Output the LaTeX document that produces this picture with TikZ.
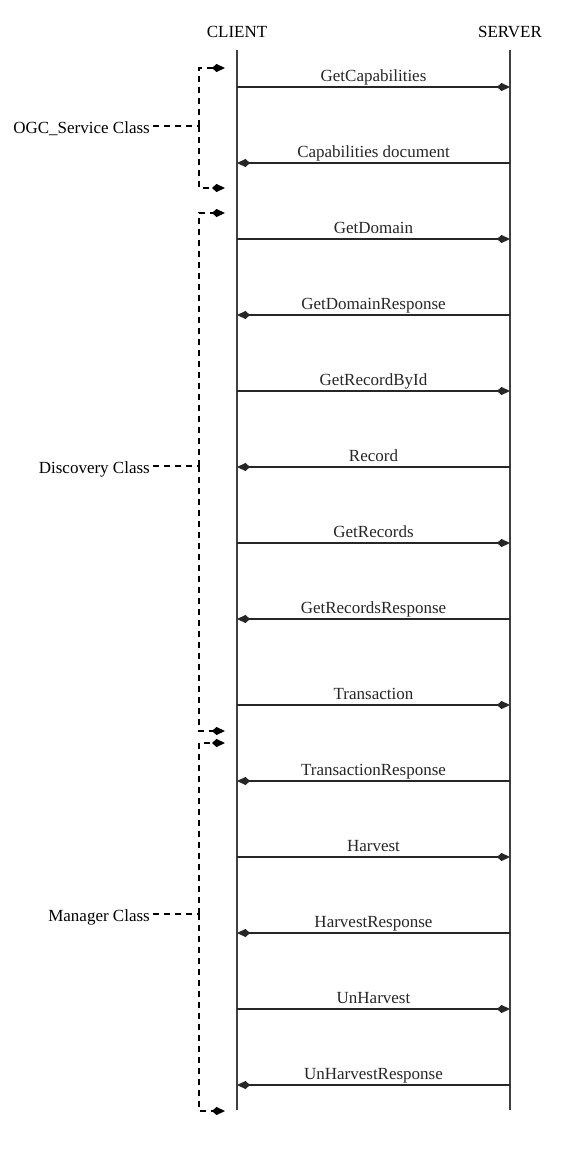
\documentclass[tikz,border=0pt]{standalone}
\usepackage{fontspec}
\setmainfont{Liberation Serif}
\usetikzlibrary{arrows.meta}

\begin{document}
\begin{tikzpicture}[x=1pt,y=-1pt,font=\fontsize{17}{20}\selectfont,
  life/.style={black!75,line width=1.7pt},
  msg/.style={black!85,line width=1.4pt,
    -{Kite[length=13pt,width=8pt,inset=4.5pt]}},
  grp/.style={line width=1.3pt,dash pattern=on 6pt off 5pt,
    -{Kite[length=13pt,width=8pt,inset=4.5pt]}},
  lab/.style={anchor=base,inner sep=0pt}]
  \useasboundingbox (0,0) rectangle (568,1168);

  % lifelines
  \node[lab] (client) at (237,37) {CLIENT};
  \node[lab] (server) at (510,37) {SERVER};
  \coordinate (c-top) at (237,50);
  \coordinate (c-end) at (237,1110);
  \coordinate (s-top) at (510,50);
  \coordinate (s-end) at (510,1110);
  \draw[life] (c-top) -- (c-end);
  \draw[life] (s-top) -- (s-end);

  % requests, client to server
  \foreach \y/\txt [count=\i] in {87/GetCapabilities,239/GetDomain,
      391/GetRecordById,543/GetRecords,705/Transaction,857/Harvest,
      1009/UnHarvest}{
    \coordinate (rq\i-a) at (237,\y);
    \coordinate (rq\i-b) at (510,\y);
    \draw[msg] (rq\i-a) -- node[lab,yshift=6pt] (rq\i) {\txt} (rq\i-b);
  }

  % responses, server to client
  \foreach \y/\txt [count=\i] in {163/Capabilities document,
      315/GetDomainResponse,467/Record,619/GetRecordsResponse,
      781/TransactionResponse,933/HarvestResponse,
      1085/UnHarvestResponse}{
    \coordinate (rs\i-a) at (510,\y);
    \coordinate (rs\i-b) at (237,\y);
    \draw[msg] (rs\i-a) -- node[lab,yshift=6pt] (rs\i) {\txt} (rs\i-b);
  }

  % service classes
  \foreach \nm/\txt/\ya/\ym/\yb in {ogc/OGC\_Service Class/68/126/188,
      dsc/Discovery Class/213/466/731,mgr/Manager Class/743/914/1111}{
    \node[lab,anchor=base east] (\nm) at (150,\ym+7) {\txt};
    \coordinate (\nm-m) at (199,\ym);
    \coordinate (\nm-t) at (225,\ya);
    \coordinate (\nm-b) at (225,\yb);
    \draw[grp] (\nm-m) |- (\nm-t);
    \draw[grp] (\nm-m) |- (\nm-b);
    \draw[grp,-,shorten <=3pt] (\nm.base east |- \nm-m) -- (\nm-m);
  }
\end{tikzpicture}
\end{document}
